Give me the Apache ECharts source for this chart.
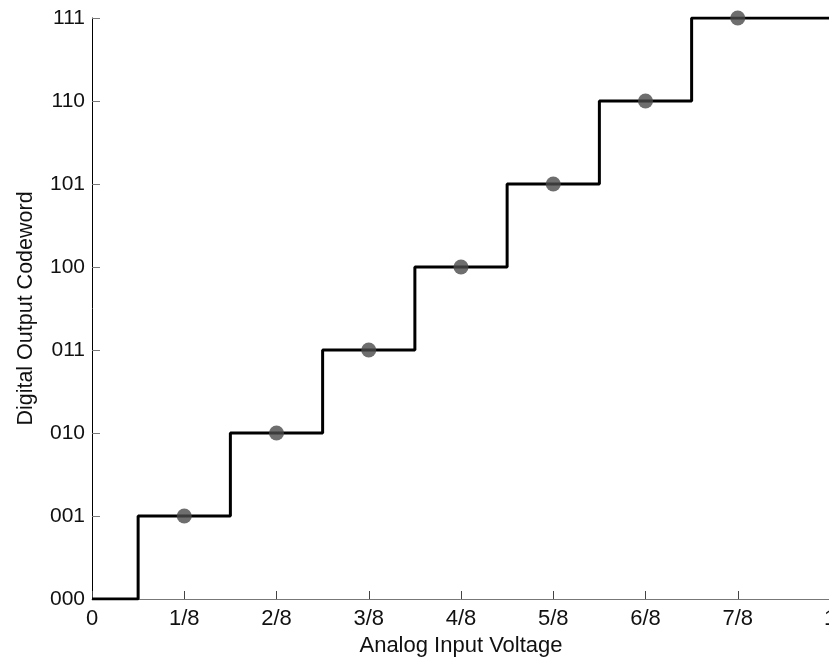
<!DOCTYPE html>
<html><head><meta charset="utf-8">
<script src="https://cdn.jsdelivr.net/npm/echarts@6/dist/echarts.min.js"></script>
<style>html,body{margin:0;padding:0;background:#fff;overflow:hidden}#c{width:829px;height:661px}</style>
</head><body><div id="c"></div>
<script>
var codeLabels = ['000','001','010','011','100','101','110','111'];
var xTickLabels = ['0','1/8','2/8','3/8','4/8','5/8','6/8','7/8','1'];
var stepEdges = [0, 1/16, 3/16, 5/16, 7/16, 9/16, 11/16, 13/16, 1];
var stepCodes = [0, 1, 2, 3, 4, 5, 6, 7];
var pointX = [1/8, 2/8, 3/8, 4/8, 5/8, 6/8, 7/8];
var pointY = [1, 2, 3, 4, 5, 6, 7];

var stepData = [];
for (var i = 0; i < stepCodes.length; i++) {
  stepData.push([stepEdges[i], stepCodes[i]]);
  stepData.push([stepEdges[i+1], stepCodes[i]]);
}
var pts = pointX.map(function(x, i){ return [x, pointY[i]]; });

var FONT = 'Liberation Sans';
var chart = echarts.init(document.getElementById('c'));
chart.setOption({
  animation: false,
  grid: {left: 92, width: 738, top: 18, height: 581, outerBoundsMode: 'none', containLabel: false},
  xAxis: {
    type: 'value', min: 0, max: 1, interval: 0.125,
    name: 'Analog Input Voltage', nameLocation: 'middle', nameGap: 36,
    nameTextStyle: {fontFamily: FONT, fontSize: 22, color: '#111'},
    axisLine: {show: true, lineStyle: {color: '#777', width: 1}},
    axisTick: {show: true, inside: true, length: 8, lineStyle: {color: '#444'}},
    axisLabel: {fontFamily: FONT, fontSize: 22, color: '#111', margin: 9,
      formatter: function(v){ return xTickLabels[Math.round(v*8)]; }},
    splitLine: {show: false}
  },
  yAxis: {
    type: 'value', min: 0, max: 7, interval: 1,
    name: 'Digital Output Codeword', nameLocation: 'middle', nameGap: 55,
    nameTextStyle: {fontFamily: FONT, fontSize: 21.5, color: '#111'},
    axisLine: {show: true, lineStyle: {color: '#000', width: 1}},
    axisTick: {show: true, inside: true, length: 8, lineStyle: {color: '#777'}},
    axisLabel: {fontFamily: FONT, fontSize: 21, color: '#111', margin: 7,
      formatter: function(v){ return codeLabels[v]; }},
    splitLine: {show: false}
  },
  series: [
    {type: 'line', data: stepData, showSymbol: false, symbol: 'none',
     lineStyle: {color: '#000', width: 3}, z: 2},
    {type: 'scatter', data: pts, symbol: 'circle', symbolSize: 15,
     itemStyle: {color: '#4a4a4a'}, z: 3}
  ]
});
</script></body></html>
